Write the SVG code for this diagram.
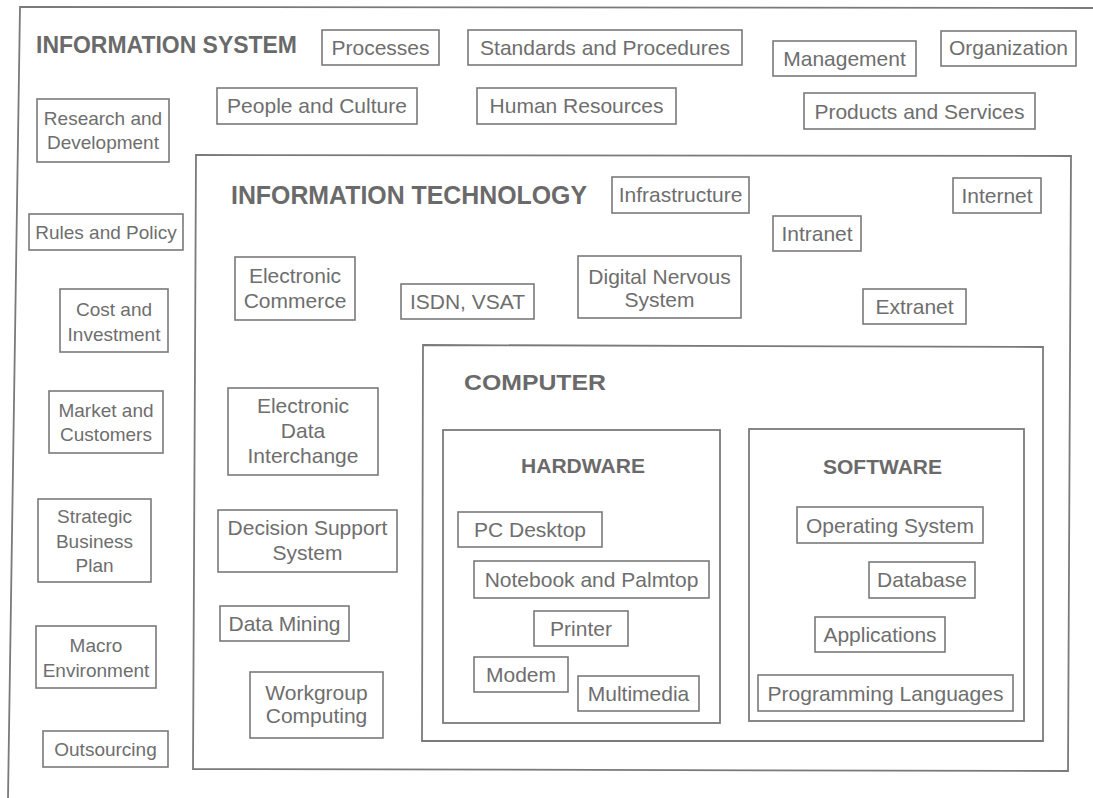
<svg xmlns="http://www.w3.org/2000/svg" width="1093" height="798" viewBox="0 0 1093 798">
  <style>
    .frame { fill: none; stroke: #7a7a7a; stroke-width: 1.8; }
    .box { fill: #ffffff; stroke: #7a7a7a; stroke-width: 1.6; }
    .lbl { font-family: "Liberation Sans", Arial, sans-serif; font-size: 21px; fill: #6e6e6e; text-anchor: middle; }
    .sm { font-size: 19px; }
    .ttl { font-family: "Liberation Sans", Arial, sans-serif; font-weight: bold; fill: #6a6a6a; }
  </style>
  <rect width="1093" height="798" fill="#ffffff"/>

  <!-- INFORMATION SYSTEM frame (open on right and bottom) -->
  <g id="information-system">
    <path class="frame" d="M1093,8 L20,7 L8,798"/>
    <text class="ttl" x="36" y="53" font-size="24" textLength="261" lengthAdjust="spacingAndGlyphs">INFORMATION SYSTEM</text>
  </g>

  <!-- INFORMATION TECHNOLOGY frame -->
  <g id="information-technology">
    <path class="frame" d="M196,155 L1071,156 L1068,771 L193,769 Z"/>
    <text class="ttl" x="231" y="204" font-size="25" textLength="356" lengthAdjust="spacingAndGlyphs">INFORMATION TECHNOLOGY</text>
  </g>

  <!-- COMPUTER frame -->
  <g id="computer">
    <path class="frame" d="M423,345 L1043,347 L1043,741 L422,741 Z"/>
    <text class="ttl" x="464" y="390" font-size="22" textLength="142" lengthAdjust="spacingAndGlyphs">COMPUTER</text>
  </g>

  <g id="hardware">
    <rect class="frame" x="443" y="430" width="277" height="293"/>
    <text class="ttl" x="521" y="473" font-size="20" textLength="124" lengthAdjust="spacingAndGlyphs">HARDWARE</text>
  </g>

  <g id="software">
    <rect class="frame" x="749" y="429" width="275" height="292"/>
    <text class="ttl" x="823" y="474" font-size="20" textLength="119" lengthAdjust="spacingAndGlyphs">SOFTWARE</text>
  </g>

  <!-- no connectors in this diagram -->
  <g id="connectors"/>

  <!-- Information system elements -->
  <g id="processes"><rect class="box" x="322" y="30" width="117" height="35"/><text class="lbl" x="380.5" y="55">Processes</text></g>
  <g id="standards"><rect class="box" x="468" y="30" width="274" height="35"/><text class="lbl" x="605" y="55">Standards and Procedures</text></g>
  <g id="management"><rect class="box" x="773" y="41" width="143" height="35"/><text class="lbl" x="844.5" y="66">Management</text></g>
  <g id="organization"><rect class="box" x="941" y="31" width="135" height="35"/><text class="lbl" x="1008.5" y="55">Organization</text></g>
  <g id="people-culture"><rect class="box" x="217" y="88" width="200" height="36"/><text class="lbl" x="317" y="113">People and Culture</text></g>
  <g id="human-resources"><rect class="box" x="477" y="88" width="199" height="36"/><text class="lbl" x="576.5" y="113">Human Resources</text></g>
  <g id="products-services"><rect class="box" x="804" y="93" width="231" height="36"/><text class="lbl" x="919.5" y="119">Products and Services</text></g>
  <g id="research-development"><rect class="box" x="37" y="99" width="132" height="63"/><text class="lbl sm" x="103" y="125">Research and</text><text class="lbl sm" x="103" y="149">Development</text></g>
  <g id="rules-policy"><rect class="box" x="29" y="214" width="154" height="36"/><text class="lbl sm" x="106" y="239">Rules and Policy</text></g>
  <g id="cost-investment"><rect class="box" x="60" y="289" width="108" height="63"/><text class="lbl sm" x="114" y="316">Cost and</text><text class="lbl sm" x="114" y="341">Investment</text></g>
  <g id="market-customers"><rect class="box" x="49" y="391" width="114" height="62"/><text class="lbl sm" x="106" y="417">Market and</text><text class="lbl sm" x="106" y="441">Customers</text></g>
  <g id="strategic-plan"><rect class="box" x="38" y="499" width="113" height="83"/><text class="lbl sm" x="94.5" y="523">Strategic</text><text class="lbl sm" x="94.5" y="548">Business</text><text class="lbl sm" x="94.5" y="572">Plan</text></g>
  <g id="macro-environment"><rect class="box" x="36" y="626" width="120" height="62"/><text class="lbl sm" x="96" y="652">Macro</text><text class="lbl sm" x="96" y="677">Environment</text></g>
  <g id="outsourcing"><rect class="box" x="43" y="731" width="125" height="36"/><text class="lbl sm" x="105.5" y="756">Outsourcing</text></g>

  <!-- Information technology elements -->
  <g id="infrastructure"><rect class="box" x="612" y="177" width="137" height="36"/><text class="lbl" x="680.5" y="202">Infrastructure</text></g>
  <g id="internet"><rect class="box" x="953" y="178" width="88" height="35"/><text class="lbl" x="997" y="203">Internet</text></g>
  <g id="intranet"><rect class="box" x="773" y="216" width="88" height="35"/><text class="lbl" x="817" y="241">Intranet</text></g>
  <g id="electronic-commerce"><rect class="box" x="235" y="257" width="120" height="63"/><text class="lbl" x="295" y="283">Electronic</text><text class="lbl" x="295" y="308">Commerce</text></g>
  <g id="isdn-vsat"><rect class="box" x="401" y="284" width="133" height="35"/><text class="lbl" x="467.5" y="309">ISDN, VSAT</text></g>
  <g id="digital-nervous-system"><rect class="box" x="578" y="256" width="163" height="62"/><text class="lbl" x="659.5" y="284">Digital Nervous</text><text class="lbl" x="659.5" y="307">System</text></g>
  <g id="extranet"><rect class="box" x="863" y="289" width="103" height="35"/><text class="lbl" x="914.5" y="314">Extranet</text></g>
  <g id="edi"><rect class="box" x="228" y="388" width="150" height="87"/><text class="lbl" x="303" y="413">Electronic</text><text class="lbl" x="303" y="438">Data</text><text class="lbl" x="303" y="463">Interchange</text></g>
  <g id="decision-support"><rect class="box" x="218" y="510" width="179" height="62"/><text class="lbl" x="307.5" y="535">Decision Support</text><text class="lbl" x="307.5" y="560">System</text></g>
  <g id="data-mining"><rect class="box" x="220" y="606" width="129" height="35"/><text class="lbl" x="284.5" y="631">Data Mining</text></g>
  <g id="workgroup-computing"><rect class="box" x="250" y="672" width="133" height="66"/><text class="lbl" x="316.5" y="700">Workgroup</text><text class="lbl" x="316.5" y="723">Computing</text></g>

  <!-- Hardware elements -->
  <g id="pc-desktop"><rect class="box" x="458" y="512" width="144" height="35"/><text class="lbl" x="530" y="537">PC Desktop</text></g>
  <g id="notebook-palmtop"><rect class="box" x="474" y="561" width="235" height="37"/><text class="lbl" x="591.5" y="587">Notebook and Palmtop</text></g>
  <g id="printer"><rect class="box" x="534" y="611" width="94" height="35"/><text class="lbl" x="581" y="636">Printer</text></g>
  <g id="modem"><rect class="box" x="474" y="657" width="94" height="35"/><text class="lbl" x="521" y="682">Modem</text></g>
  <g id="multimedia"><rect class="box" x="578" y="676" width="121" height="35"/><text class="lbl" x="638.5" y="701">Multimedia</text></g>

  <!-- Software elements -->
  <g id="operating-system"><rect class="box" x="797" y="507" width="186" height="36"/><text class="lbl" x="890" y="533">Operating System</text></g>
  <g id="database"><rect class="box" x="869" y="562" width="106" height="36"/><text class="lbl" x="922" y="587">Database</text></g>
  <g id="applications"><rect class="box" x="815" y="617" width="130" height="35"/><text class="lbl" x="880" y="642">Applications</text></g>
  <g id="programming-languages"><rect class="box" x="758" y="675" width="255" height="36"/><text class="lbl" x="885.5" y="701">Programming Languages</text></g>
</svg>
